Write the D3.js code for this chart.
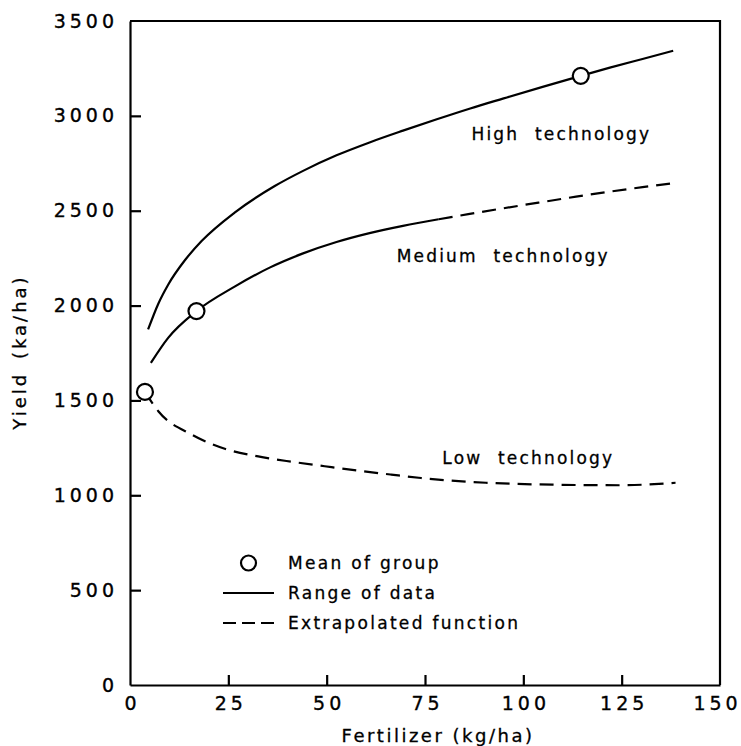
<!DOCTYPE html>
<html>
<head>
<meta charset="utf-8">
<script src="https://cdn.jsdelivr.net/npm/d3@7"></script>
<style>
  html, body { margin: 0; padding: 0; background: #fff; }
  svg { display: block; }
  text { font-family: "DejaVu Sans", sans-serif; fill: #000; }
</style>
</head>
<body>
<svg id="chart" width="741" height="746"></svg>
<script>
// ---- data ----
const xTicks = [0, 25, 50, 75, 100, 125, 150];
const yTicks = [0, 500, 1000, 1500, 2000, 2500, 3000, 3500];

const highSolid = [
  [4.6, 1874], [7.2, 2010], [9.7, 2110], [14.0, 2240], [18.2, 2340],
  [26.6, 2490], [36.8, 2630], [44.0, 2710], [52.5, 2792], [60.9, 2860],
  [69.4, 2922], [78.0, 2982], [86.5, 3039], [95.0, 3092], [104.9, 3153],
  [114.6, 3211], [122.0, 3254], [130.3, 3300], [138.1, 3343]
];
const mediumSolid = [
  [5.3, 1698], [9.7, 1830], [16.9, 1971], [26.6, 2100], [35.5, 2200],
  [44.0, 2275], [52.5, 2335], [60.9, 2382], [69.4, 2420], [78.5, 2455]
];
const mediumDashed = [
  [78.5, 2455], [86.0, 2482], [95.0, 2513], [104.9, 2546], [113.4, 2574],
  [121.8, 2600], [130.3, 2624], [138.1, 2645]
];
const lowDashed = [
  [3.8, 1545], [7.2, 1443], [15.7, 1320], [24.1, 1245], [32.6, 1205],
  [41.0, 1177], [49.5, 1153], [57.9, 1130], [66.4, 1109], [74.0, 1091],
  [90.5, 1066], [107.4, 1056], [124.4, 1053], [138.7, 1066]
];
const groupMeans = [[3.8, 1545], [16.9, 1971], [114.6, 3211]];

const curveLabels = ["High technology", "Medium technology", "Low technology"];
const curveLabelPos = [[86.8, 2905], [67.8, 2262], [79.4, 1196]];

const legendItems = ["Mean of group", "Range of data", "Extrapolated function"];
const xTitle = "Fertilizer (kg/ha)";
const yTitle = "Yield (ka/ha)";

// ---- layout ----
const svg = d3.select("#chart");
const x = d3.scaleLinear().domain([0, 150]).range([130, 720]);
const y = d3.scaleLinear().domain([0, 3500]).range([685, 21]);
const ink = "#000";
const sw = 2.2;

// frame (top and right)
svg.append("path")
  .attr("d", `M${x(0)},${y(3500)}H${x(150)}V${y(0)}`)
  .attr("fill", "none").attr("stroke", ink).attr("stroke-width", sw);

// axes
const gx = svg.append("g").attr("transform", `translate(0,${y(0)})`)
  .call(d3.axisBottom(x).tickValues(xTicks).tickSizeInner(-10).tickSizeOuter(0).tickPadding(12).tickFormat(d3.format("d")));
const gy = svg.append("g").attr("transform", `translate(${x(0)},0)`)
  .call(d3.axisLeft(y).tickValues(yTicks).tickSizeInner(-11).tickSizeOuter(0).tickPadding(12).tickFormat(d3.format("d")));
[gx, gy].forEach(g => {
  g.select(".domain").attr("stroke", ink).attr("stroke-width", sw);
  g.selectAll(".tick line").attr("stroke", ink).attr("stroke-width", sw);
  g.selectAll(".tick text").attr("font-family", "DejaVu Sans").attr("font-size", 19)
    .attr("fill", ink).attr("stroke", ink).attr("stroke-width", 0.35)
    .style("letter-spacing", "4px");
});
gx.selectAll(".tick text").attr("dx", d => d === 150 ? -3 : 2);
gx.selectAll(".tick").filter(d => d === 0 || d === 150).select("line").remove();
gy.selectAll(".tick").filter(d => d === 0 || d === 3500).select("line").remove();

// lines
const line = d3.line().x(d => x(d[0])).y(d => y(d[1])).curve(d3.curveMonotoneX);
const dash = "14,8";
svg.append("path").datum(highSolid).attr("d", line)
  .attr("fill", "none").attr("stroke", ink).attr("stroke-width", sw);
svg.append("path").datum(mediumSolid).attr("d", line)
  .attr("fill", "none").attr("stroke", ink).attr("stroke-width", sw);
svg.append("path").datum(mediumDashed).attr("d", line)
  .attr("fill", "none").attr("stroke", ink).attr("stroke-width", sw).attr("stroke-dasharray", dash);
svg.append("path").datum(lowDashed).attr("d", line)
  .attr("fill", "none").attr("stroke", ink).attr("stroke-width", sw).attr("stroke-dasharray", dash);

// group means
svg.selectAll("circle.mean").data(groupMeans).join("circle")
  .attr("class", "mean")
  .attr("cx", d => x(d[0])).attr("cy", d => y(d[1])).attr("r", 8)
  .attr("fill", "#fff").attr("stroke", ink).attr("stroke-width", sw);

// curve labels
svg.selectAll("text.clabel").data(curveLabels).join("text")
  .attr("class", "clabel")
  .attr("x", (d, i) => x(curveLabelPos[i][0]))
  .attr("y", (d, i) => y(curveLabelPos[i][1]))
  .attr("dy", "0.35em")
  .attr("font-size", 17).attr("stroke", ink).attr("stroke-width", 0.3)
  .style("letter-spacing", "2.2px").style("word-spacing", "8px")
  .text(d => d);

// legend
const lg = svg.append("g");
const lx0 = 223, lx1 = 274, ltx = 288, ly = [563, 593, 623];
lg.append("circle").attr("cx", (lx0 + lx1) / 2).attr("cy", ly[0]).attr("r", 7.5)
  .attr("fill", "#fff").attr("stroke", ink).attr("stroke-width", sw);
lg.append("line").attr("x1", lx0).attr("x2", lx1).attr("y1", ly[1]).attr("y2", ly[1])
  .attr("stroke", ink).attr("stroke-width", sw);
lg.append("line").attr("x1", lx0).attr("x2", lx1).attr("y1", ly[2]).attr("y2", ly[2])
  .attr("stroke", ink).attr("stroke-width", sw).attr("stroke-dasharray", "13,6");
lg.selectAll("text").data(legendItems).join("text")
  .attr("x", ltx).attr("y", (d, i) => ly[i]).attr("dy", "0.35em")
  .attr("font-size", 17).attr("stroke", ink).attr("stroke-width", 0.3)
  .style("letter-spacing", "2.3px")
  .text(d => d);

// axis titles
svg.append("text").attr("x", 438).attr("y", 736).attr("dy", "0.35em")
  .attr("text-anchor", "middle").attr("font-size", 18).attr("stroke", ink).attr("stroke-width", 0.3)
  .style("letter-spacing", "2.5px")
  .text(xTitle);
svg.append("text").attr("transform", "translate(20,352) rotate(-90)").attr("dy", "0.35em")
  .attr("text-anchor", "middle").attr("font-size", 18).attr("stroke", ink).attr("stroke-width", 0.3)
  .style("letter-spacing", "3px").style("word-spacing", "4px")
  .text(yTitle);
</script>
</body>
</html>
